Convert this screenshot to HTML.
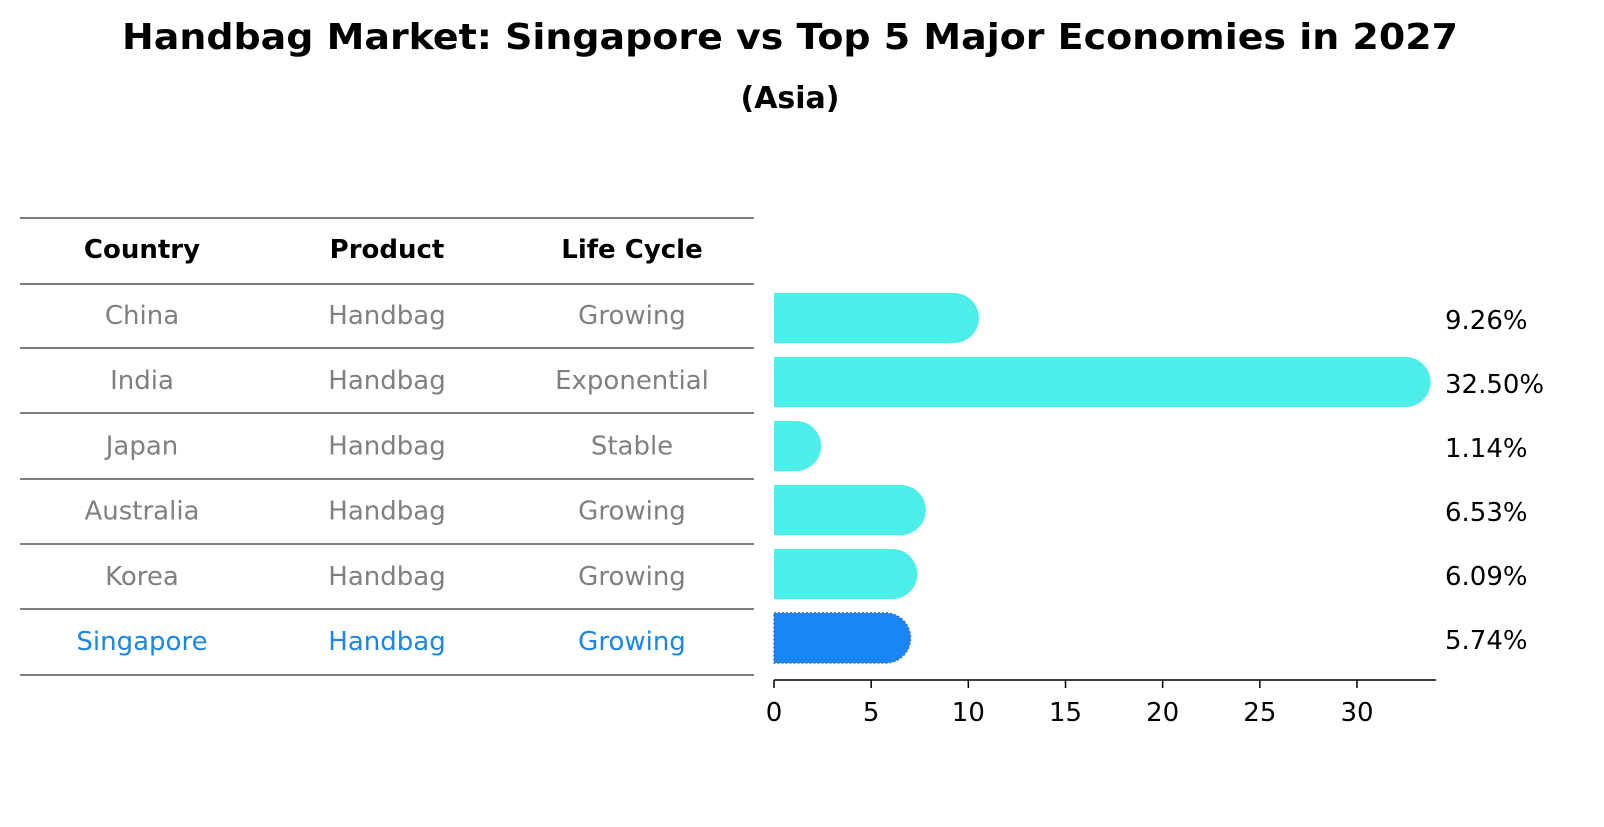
<!DOCTYPE html>
<html><head><meta charset="utf-8"><style>
body{margin:0;background:#fff;font-family:"DejaVu Sans","Liberation Sans",sans-serif}
</style></head><body>
<svg width="1604" height="823" xmlns="http://www.w3.org/2000/svg" font-family="DejaVu Sans, Liberation Sans, sans-serif">
<text x="790" y="49" text-anchor="middle" font-size="36" font-weight="bold" textLength="1336" lengthAdjust="spacingAndGlyphs">Handbag Market: Singapore vs Top 5 Major Economies in 2027</text>
<text x="790" y="108" text-anchor="middle" font-size="30" font-weight="bold">(Asia)</text>
<g id="table"></g>
<g id="bars"></g>
</svg>
<script>
const countries=["China","India","Japan","Australia","Korea","Singapore"];
const products=["Handbag","Handbag","Handbag","Handbag","Handbag","Handbag"];
const cycles=["Growing","Exponential","Stable","Growing","Growing","Growing"];
const values=[9.26,32.50,1.14,6.53,6.09,5.74];
const valueLabels=["9.26%","32.50%","1.14%","6.53%","6.09%","5.74%"];
const ticks=[0,5,10,15,20,25,30];
const NS="http://www.w3.org/2000/svg";
function mk(t,a,p){const e=document.createElementNS(NS,t);for(const k in a)e.setAttribute(k,a[k]);p.appendChild(e);return e;}
const tb=document.getElementById('table');
const lineYs=[218,284,348,413,479,544,609,675];
lineYs.forEach(y=>{const l=mk('line',{x1:20,x2:754,y1:y,y2:y,stroke:'#000','stroke-width':1},tb);

});
const cx=[142,387,632];
["Country","Product","Life Cycle"].forEach((h,i)=>{const t=mk('text',{x:cx[i],y:258,'text-anchor':'middle','font-size':26,'font-weight':'bold'},tb);t.textContent=h;

});
countries.forEach((c,r)=>{const y=324+r*65.2;const col=r===5?'#1a86e8':'#808080';
[c,products[r],cycles[r]].forEach((v,i)=>{const t=mk('text',{x:cx[i],y:y,'text-anchor':'middle','font-size':26,fill:col},tb);t.textContent=v;

});});
const g=document.getElementById('bars');
const x0=774,ppu=(1357-774)/30;
const X=v=>x0+v*ppu;
const R=25;
values.forEach((v,i)=>{const yc=318+i*64;const isS=i===5;
const xe=X(v);
const d=`M${x0},${yc-R} L${xe},${yc-R} A${R},${R} 0 0 1 ${xe},${yc+R} L${x0},${yc+R} Z`;
const p=mk('path',{d:d,fill:isS?'#1a86f4':'#4deeea',stroke:isS?'#2a6fd6':'none','stroke-width':isS?1.5:0,'stroke-dasharray':isS?'2,2':''},g);


const t=mk('text',{x:1445,y:yc+11,'font-size':26},g);t.textContent=valueLabels[i];

});
const ax=mk('line',{x1:x0,x2:1436,y1:680,y2:680,stroke:'#000','stroke-width':1.5},g);


ticks.forEach(v=>{const l=mk('line',{x1:X(v),x2:X(v),y1:680,y2:688,stroke:'#000','stroke-width':1.5},g);


const t=mk('text',{x:X(v),y:721,'text-anchor':'middle','font-size':26},g);t.textContent=v;

});
</script>
</body></html>
